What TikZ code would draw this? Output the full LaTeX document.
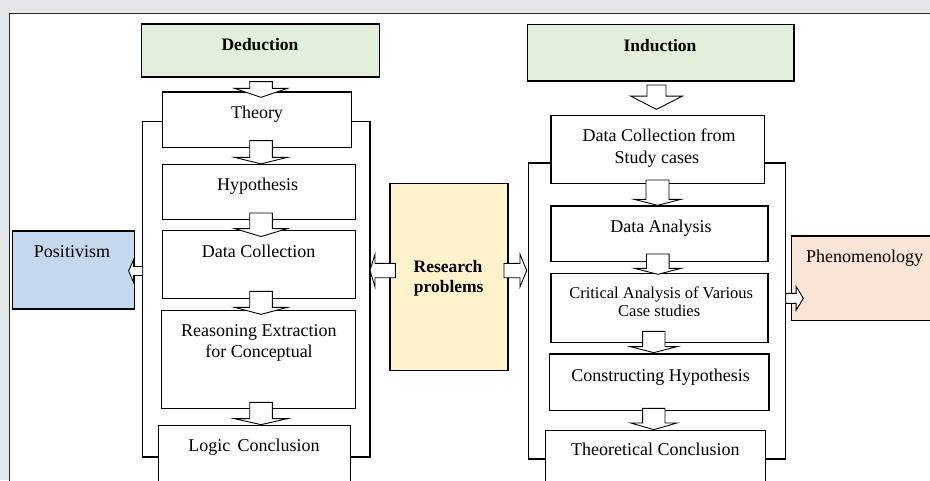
\documentclass[tikz,border=0pt]{standalone}
\usepackage{fontspec}
\setmainfont{Liberation Serif}
\usetikzlibrary{calc,fit}

\definecolor{pagegray}{HTML}{E3E7EA}
\definecolor{dedgreen}{HTML}{E2EFDA}
\definecolor{posblue}{HTML}{C5D9EE}
\definecolor{resyellow}{HTML}{FFF2CC}
\definecolor{phenpeach}{HTML}{FBE5D6}

% downward block arrow from node #1 to node #2
% #3 centre x, #4 shaft-top offset below #1.south, #5 tip offset below #2.north,
% #6 head depth, #7 shaft half width, #8 head half width
\newcommand\downblock[8]{%
  \draw[blockarrow] let \p1=(#1.south), \p2=(#2.north),
      \n1={\y1-#4pt}, \n2={\y2-#5pt}, \n3={\y2-#5pt+#6pt} in
    ({#3pt-#7pt},\n1) -- ({#3pt+#7pt},\n1)
    -- ({#3pt+#7pt},\n3) -- ({#3pt+#8pt},\n3)
    -- ({#3pt},\n2)
    -- ({#3pt-#8pt},\n3) -- ({#3pt-#7pt},\n3) -- cycle;}

% horizontal block arrow from point #1 (tail) to point #2 (tip)
% #3 shaft half height, #4 head half height, #5 signed head length (towards tail)
\newcommand\hblock[5]{%
  \draw[blockarrow] let \p1=#1, \p2=#2, \n1={\x2+#5pt} in
    (\x1,{\y1+#3pt}) -- (\n1,{\y1+#3pt}) -- (\n1,{\y1+#4pt})
    -- (\x2,\y1)
    -- (\n1,{\y1-#4pt}) -- (\n1,{\y1-#3pt}) -- (\x1,{\y1-#3pt}) -- cycle;}

\begin{document}
\begin{tikzpicture}[x=1pt,y=-1pt,
  box/.style={draw=black, line width=1.3pt, fill=white, inner sep=0pt},
  lbl/.style={anchor=base, inner sep=0pt, font=\fontsize{18}{20}\selectfont},
  slbl/.style={anchor=base, inner sep=0pt, font=\fontsize{16.5}{18}\selectfont},
  blbl/.style={anchor=base, inner sep=0pt, font=\fontsize{17.5}{20}\selectfont\bfseries},
  blockarrow/.style={draw=black, line width=0.9pt, fill=white, line join=miter},
  bracket/.style={draw=black, line width=1.3pt}]

\useasboundingbox (0,0) rectangle (930,480);
\clip (0,0) rectangle (930,480);

% page and panel
\fill[pagegray] (0,0) rectangle (930,480);
\draw[draw=black!85, line width=1pt, fill=white] (9.3,13.3) rectangle (945,495);

% brackets behind the two chains
\draw[bracket] (163,121.7) -- (142.7,121.7) -- (142.7,457) -- (160,457);
\draw[bracket] (350,121.7) -- (370,121.7) -- (370,457) -- (349,457);
\draw[bracket] (552,163) -- (528.3,163) -- (528.3,459) -- (547,459);
\draw[bracket] (763,163) -- (785.7,163) -- (785.7,459) -- (764,459);

\coordinate (lbL) at (142.7,271);
\coordinate (lbR) at (370,270.5);
\coordinate (rbL) at (528.3,270.5);
\coordinate (rbR) at (785.7,298.3);

% deduction chain
\node[box, fill=dedgreen, fit={(141.7,24) (379.3,77)}] (ded) {};
\node[box, fit={(162.3,92) (351.7,147.7)}] (theory) {};
\node[box, fit={(162.3,164.3) (355.7,219.3)}] (hyp) {};
\node[box, fit={(162.3,230.7) (355.7,298.3)}] (dcol) {};
\node[box, fit={(161.3,310.3) (355.7,408.3)}] (reas) {};
\node[box, fit={(158.3,425.3) (350.7,495)}] (logic) {};

% side boxes
\node[box, fill=posblue, fit={(12.3,231) (134.3,309)}] (pos) {};
\node[box, fill=resyellow, fit={(390,183.3) (508,370.7)}] (res) {};
\node[box, fill=phenpeach, fit={(791.7,236) (945,320.7)}] (phen) {};

% induction chain
\node[box, fill=dedgreen, fit={(527.3,24.3) (794,81)}] (ind) {};
\node[box, fit={(551,115.7) (764.3,183.3)}] (dcs) {};
\node[box, fit={(551,206) (768,261.7)}] (da) {};
\node[box, fit={(551,273.7) (768,342.3)}] (ca) {};
\node[box, fit={(549.3,354) (769,410.7)}] (ch) {};
\node[box, fit={(545.7,430.3) (765.3,495)}] (tc) {};

% labels
\node[blbl] (dedT) at (260,50.5) {Deduction};
\node[lbl] (theoryT) at (257,118) {Theory};
\node[lbl] (hypT) at (257.7,190.5) {Hypothesis};
\node[lbl] (dcolT) at (258.7,257.3) {Data Collection};
\node[lbl] (reasT1) at (258.8,336.7) {Reasoning Extraction};
\node[lbl] (reasT2) at (259,357.3) {for Conceptual};
\node[lbl] (logicT) at (254,451.7) {Logic\ \,Conclusion};
\node[lbl] (posT) at (72,257.3) {Positivism};
\node[blbl] (resT1) at (448,272.7) {Research};
\node[blbl] (resT2) at (448.7,292.7) {problems};
\node[blbl] (indT) at (660,51.5) {Induction};
\node[lbl] (dcsT1) at (659.2,141.7) {Data Collection from};
\node[lbl] (dcsT2) at (656.8,163.3) {Study cases};
\node[lbl] (daT) at (661,232.3) {Data Analysis};
\node[slbl] (caT1) at (661.2,298.3) {Critical Analysis of Various};
\node[slbl] (caT2) at (659.2,316) {Case studies};
\node[lbl] (chT) at (660.5,381) {Constructing Hypothesis};
\node[lbl] (tcT) at (655.3,455) {Theoretical Conclusion};
\node[lbl] (phenT) at (864.7,262.3) {Phenomenology};

% block arrows down the deduction chain
\downblock{ded}{theory}{261}{4}{6}{9}{11.3}{26.5}
\downblock{theory}{hyp}{261}{-7.7}{0.2}{6.5}{11.3}{26.5}
\downblock{hyp}{dcol}{261}{-7}{6.5}{8}{11.3}{26.5}
\downblock{dcol}{reas}{261}{-7.6}{4.7}{7}{11.3}{26.5}
\downblock{reas}{logic}{261}{-6.6}{0}{6}{11.3}{26.5}

% block arrows down the induction chain
\downblock{ind}{dcs}{656.5}{3.3}{-5.7}{13.3}{9.5}{26}
\downblock{dcs}{da}{657.5}{-4}{0}{6}{11.5}{23.3}
\downblock{da}{ca}{657.8}{-8.4}{1.3}{6}{11.3}{23.3}
\downblock{ca}{ch}{653.8}{-11.6}{-0.7}{6}{11.2}{23.3}
\downblock{ch}{tc}{653.8}{-3}{0}{6.7}{11.2}{23.3}

% side arrows
\hblock{($(res.west |- lbR)+(6,0)$)}{(lbR)}{7.2}{16.3}{5}
\hblock{($(res.east |- rbL)+(-4.7,0)$)}{($(rbL)+(-1.6,0)$)}{7.2}{16.3}{-6.7}
\hblock{(lbL)}{($(pos.east |- lbL)+(-6.3,0)$)}{4.5}{11.5}{5}
\hblock{(rbR)}{($(phen.west |- rbR)+(12.3,0)$)}{5}{12}{-7.3}

\end{tikzpicture}
\end{document}
